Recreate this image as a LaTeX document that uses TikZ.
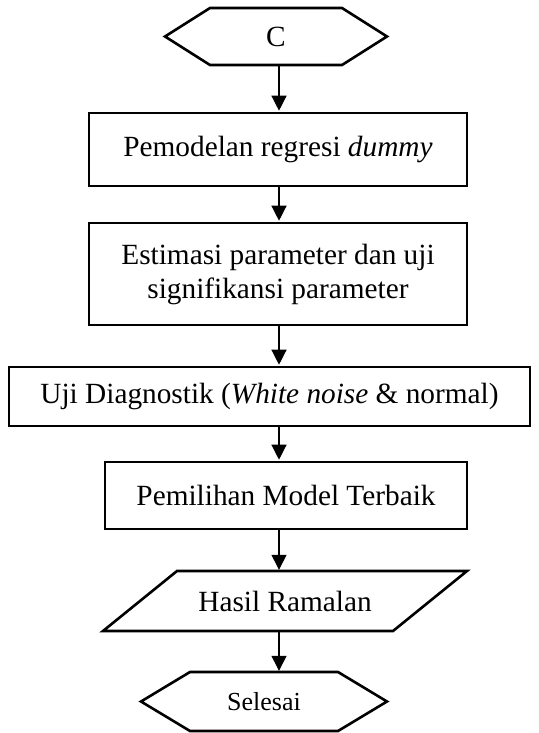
\documentclass[tikz,border=0pt]{standalone}
\usepackage{fontspec}
\setmainfont{Liberation Serif}
\usetikzlibrary{arrows.meta}

\tikzset{
  garis/.style={line width=2.6pt, line join=miter},
  kotak/.style={draw, garis, minimum width=378pt, minimum height=73pt, inner sep=0pt, align=center},
  teks/.style={inner sep=0pt, align=center},
  panah/.style={line width=1.3pt, -{Triangle[length=15pt,width=15pt]}, shorten >=1pt}
}

\begin{document}
\begin{tikzpicture}[x=1pt, y=-1pt, font=\fontsize{29.3}{34}\selectfont]
	\useasboundingbox (0,0) rectangle (538,733);
	\coordinate (sumbu) at (279,0);

	% Terminator awal
	\node[teks, minimum width=222pt, minimum height=57pt] (mulai) at (276,36.5) {C};
	\draw[garis] (165,36.5) -- (210,8) -- (342,8) -- (387,36.5) -- (342,65) -- (210,65) -- cycle;

	% Proses
	\node[kotak] (model) at (278,149.5) {Pemodelan regresi \textit{dummy}};
	\node[kotak, minimum height=102pt] (estimasi) at (278,274) {Estimasi parameter dan uji\\signifikansi parameter};
	\node[kotak, minimum width=521pt, minimum height=59pt] (diagnostik) at (269.5,396.5) {Uji Diagnostik (\textit{White noise} \& normal)};
	\node[kotak, minimum width=362pt, minimum height=67pt] (terbaik) at (286,495.5) {Pemilihan Model Terbaik};

	% Output
	\node[teks, minimum width=290pt, minimum height=60pt] (hasil) at (285,601) {Hasil Ramalan};
	\draw[garis] (103,631) -- (177,571) -- (467,571) -- (393,631) -- cycle;

	% Terminator akhir
	\node[teks, minimum width=246pt, minimum height=59pt, font=\fontsize{26}{28}\selectfont] (selesai) at (264,701.5) {Selesai};
	\draw[garis] (141,701.5) -- (190,672) -- (338,672) -- (387,701.5) -- (338,731) -- (190,731) -- cycle;

	% Panah
	\draw[panah] (mulai.south -| sumbu) -- (model.north -| sumbu);
	\draw[panah] (model.south -| sumbu) -- (estimasi.north -| sumbu);
	\draw[panah] (estimasi.south -| sumbu) -- (diagnostik.north -| sumbu);
	\draw[panah] (diagnostik.south -| sumbu) -- (terbaik.north -| sumbu);
	\draw[panah] (terbaik.south -| sumbu) -- (hasil.north -| sumbu);
	\draw[panah] (hasil.south -| sumbu) -- (selesai.north -| sumbu);
\end{tikzpicture}
\end{document}
